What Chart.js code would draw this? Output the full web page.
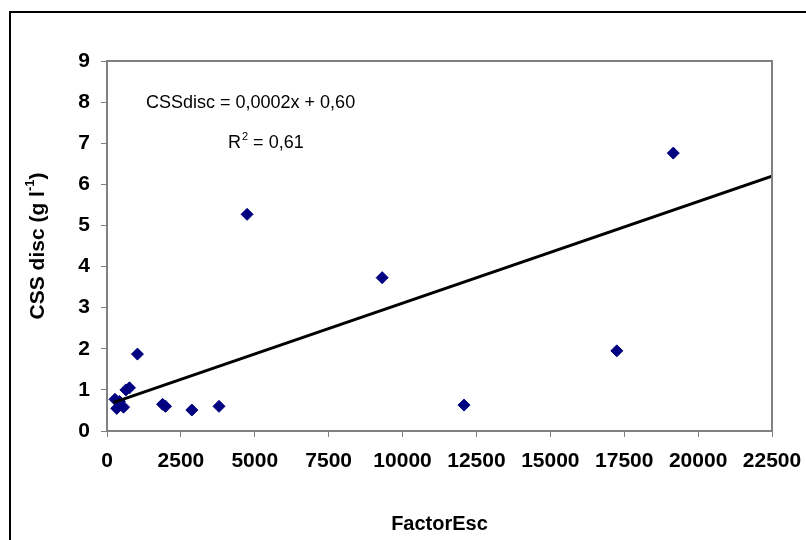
<!DOCTYPE html>
<html>
<head>
<meta charset="utf-8">
<script src="https://cdn.jsdelivr.net/npm/chart.js@4"></script>
<style>
  html, body { margin: 0; padding: 0; background: #fff; }
  #wrap { width: 806px; height: 540px; }
</style>
</head>
<body>
<div id="wrap"><canvas id="cssChart" width="806" height="540"></canvas></div>
<script>
// data
const factorEsc = [270, 420, 330, 560, 640, 760, 1030, 1880, 1980, 2870, 3790, 4740, 9310, 12080, 17250, 19160];
const cssDisc = [0.77, 0.72, 0.55, 0.58, 1.0, 1.05, 1.87, 0.65, 0.6, 0.51, 0.6, 5.27, 3.73, 0.63, 1.95, 6.76];
const xTicks = [0, 2500, 5000, 7500, 10000, 12500, 15000, 17500, 20000, 22500];
const yTicks = [0, 1, 2, 3, 4, 5, 6, 7, 8, 9];
// trend line as drawn in the picture
const trendSlope = 0.000247;
const trendIntercept = 0.64;
const equationText = 'CSSdisc = 0,0002x + 0,60';
const r2Value = '0,61';

const xMax = xTicks[xTicks.length - 1];
const trendStart = Math.min(...factorEsc) - 60;
const trendPoints = [trendStart, xMax].map(x => ({ x, y: trendIntercept + trendSlope * x }));
const scatterPoints = factorEsc.map((x, i) => ({ x, y: cssDisc[i] }));

const FONT = '"Liberation Sans", Arial, sans-serif';

const decorations = {
  id: 'decorations',
  beforeDraw(chart) {
    const { ctx } = chart;
    ctx.save();
    ctx.fillStyle = '#fff';
    ctx.fillRect(0, 0, chart.width, chart.height);
    // outer frame (only top and left are visible)
    ctx.strokeStyle = '#000';
    ctx.lineWidth = 2;
    ctx.beginPath();
    ctx.moveTo(10, chart.height + 2);
    ctx.lineTo(10, 12);
    ctx.lineTo(chart.width + 2, 12);
    ctx.stroke();
    ctx.restore();
  },
  afterDraw(chart) {
    const { ctx, chartArea: a } = chart;
    ctx.save();
    // plot area border
    ctx.strokeStyle = '#808080';
    ctx.lineWidth = 2;
    ctx.strokeRect(a.left, a.top, a.right - a.left, a.bottom - a.top);

    // equation text
    ctx.fillStyle = '#000';
    ctx.font = '18px ' + FONT;
    ctx.textBaseline = 'alphabetic';
    ctx.textAlign = 'left';
    ctx.fillText(equationText, 146, 108);
    let x = 228;
    ctx.fillText('R', x, 148);
    x += ctx.measureText('R').width;
    ctx.font = '11px ' + FONT;
    ctx.fillText('2', x + 1, 140);
    x += ctx.measureText('2').width + 1;
    ctx.font = '18px ' + FONT;
    ctx.fillText(' = ' + r2Value, x, 148);

    // y axis title with superscript
    ctx.translate(38, 246);
    ctx.rotate(-Math.PI / 2);
    const parts = [['CSS disc (g l', 'bold 21px '], ['-1', 'bold 13px '], [')', 'bold 21px ']];
    let total = 0;
    parts.forEach(p => { ctx.font = p[1] + FONT; total += ctx.measureText(p[0]).width; });
    let px = -total / 2;
    ctx.textBaseline = 'middle';
    parts.forEach(p => {
      ctx.font = p[1] + FONT;
      const dy = p[0] === '-1' ? -8 : 0;
      ctx.fillText(p[0], px, dy);
      px += ctx.measureText(p[0]).width;
    });
    ctx.restore();
  }
};

new Chart(document.getElementById('cssChart'), {
  type: 'scatter',
  data: {
    datasets: [
      {
        label: 'CSS disc',
        data: scatterPoints,
        pointStyle: 'rectRot',
        pointRadius: 6,
        pointBackgroundColor: '#000080',
        pointBorderColor: '#000080',
        pointBorderWidth: 1,
        order: 2,
      },
      {
        type: 'line',
        label: 'Trend',
        data: trendPoints,
        borderColor: '#000',
        borderWidth: 3,
        pointRadius: 0,
        fill: false,
        order: 1,
      },
    ],
  },
  options: {
    responsive: false,
    animation: false,
    layout: { padding: { top: 61, right: 34, left: 0, bottom: 0 } },
    plugins: {
      legend: { display: false },
      tooltip: { enabled: false },
    },
    scales: {
      x: {
        type: 'linear',
        min: 0,
        max: xMax,
        afterBuildTicks: scale => { scale.ticks = xTicks.map(v => ({ value: v })); },
        afterFit: scale => { scale.height = 109; scale.paddingLeft = 0; scale.paddingRight = 0; },
        grid: { drawOnChartArea: false, drawTicks: true, tickLength: 6, tickColor: '#808080' },
        border: { color: '#808080', width: 2 },
        ticks: {
          color: '#000',
          font: { family: FONT, size: 21, weight: 'bold' },
          padding: 12,
          maxRotation: 0,
          autoSkip: false,
          callback: v => String(v),
        },
        title: {
          display: true,
          text: 'FactorEsc',
          color: '#000',
          font: { family: FONT, size: 20, weight: 'bold' },
          padding: { top: 18 },
        },
      },
      y: {
        type: 'linear',
        min: 0,
        max: yTicks[yTicks.length - 1],
        afterBuildTicks: scale => { scale.ticks = yTicks.map(v => ({ value: v })); },
        afterFit: scale => { scale.width = 107; scale.paddingTop = 0; scale.paddingBottom = 0; },
        grid: { drawOnChartArea: false, drawTicks: true, tickLength: 6, tickColor: '#808080' },
        border: { color: '#808080', width: 2 },
        ticks: { color: '#000', font: { family: FONT, size: 21, weight: 'bold' }, padding: 11, callback: v => String(v) },
      },
    },
  },
  plugins: [decorations],
});
</script>
</body>
</html>
